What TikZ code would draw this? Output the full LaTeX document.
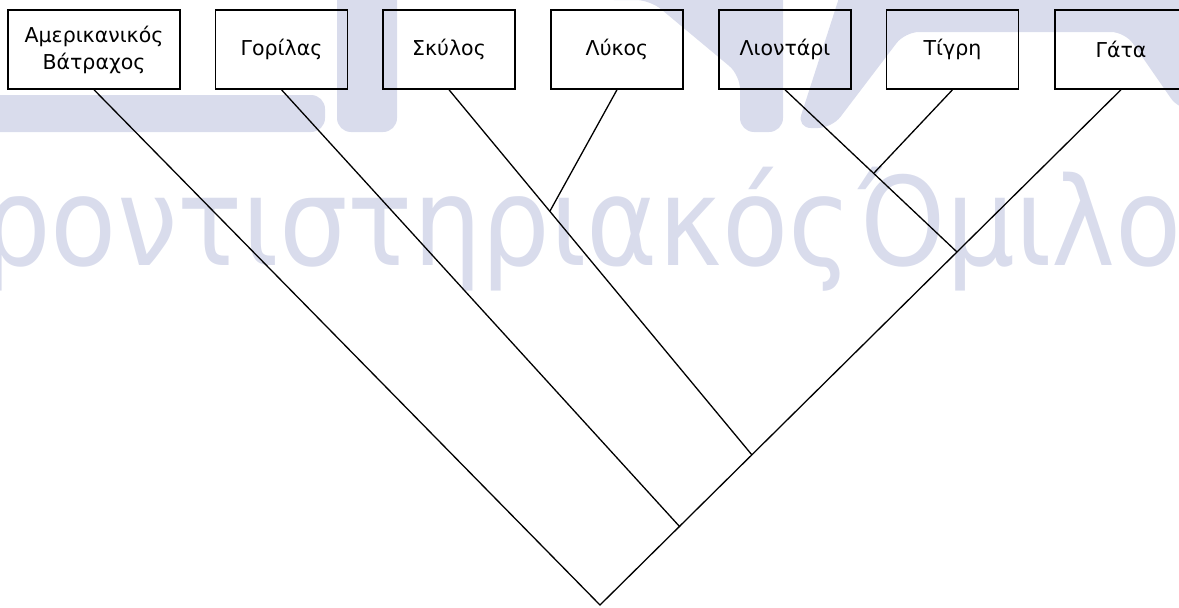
\documentclass[tikz,border=0pt]{standalone}
\usepackage{fontspec}
\setmainfont{DejaVu Sans}
\definecolor{wmark}{RGB}{217,220,236}
\tikzset{
  animal/.style={rectangle,draw,line width=1.5pt,minimum width=132pt,minimum height=79pt,inner sep=0pt,align=center,font=\fontsize{20.5}{27}\selectfont},
  branch/.style={line width=1.3pt},
  logo/.style={fill=wmark,rounded corners=14pt},
  wmtext/.style={text=wmark,inner sep=0pt,xscale=0.88,font=\fontsize{123}{123}\selectfont}
}
\begin{document}
\begin{tikzpicture}[x=1pt,y=-1pt]
\useasboundingbox (0,0) rectangle (1179,608);
\clip (0,0) rectangle (1179,608);
\fill[logo] (-30,95) -- (325,95) -- (325,132) -- (-30,132) -- cycle;
\fill[logo] (337,-30) -- (397,-30) -- (397,132) -- (337,132) -- cycle;
\fill[logo] (567,-30) -- (783,-30) -- (783,132) -- (740,132) -- (740,75) -- (650,0) -- (600,0) -- cycle;
\fill[logo] (797,128) -- (848,-30) -- (1210,-30) -- (1210,110) -- (1179,110) -- (1125,32) -- (905,32) -- (832,128) -- cycle;
\node[wmtext,anchor=base east] (wmleft) at (852,265) {Φροντιστηριακός};
\node[wmtext,anchor=base west] (wmright) at (858,265) {Όμιλος};
\node[animal,minimum width=172pt] (frog) at (94,49.5) {Αμερικανικός\\Βάτραχος};
\node[animal] (gorilla) at (281.5,49.5) {Γορίλας};
\node[animal] (dog) at (449,49.5) {Σκύλος};
\node[animal] (wolf) at (617,49.5) {Λύκος};
\node[animal] (lion) at (785,49.5) {Λιοντάρι};
\node[animal] (tiger) at (952.5,49.5) {Τίγρη};
\node[animal] (cat) at (1121,49.5) {Γάτα};
\coordinate (root) at (600,605);
\coordinate (jgor) at (680,527);
\coordinate (jdog) at (752,455);
\coordinate (jlion) at (957,252);
\coordinate (jwolf) at (550,211);
\coordinate (jtiger) at (874,173);
\draw[branch] (frog.south) -- (root) -- (cat.south);
\draw[branch] (gorilla.south) -- (jgor);
\draw[branch] (dog.south) -- (jdog);
\draw[branch] (wolf.south) -- (jwolf);
\draw[branch] (lion.south) -- (jlion);
\draw[branch] (tiger.south) -- (jtiger);
\end{tikzpicture}
\end{document}
